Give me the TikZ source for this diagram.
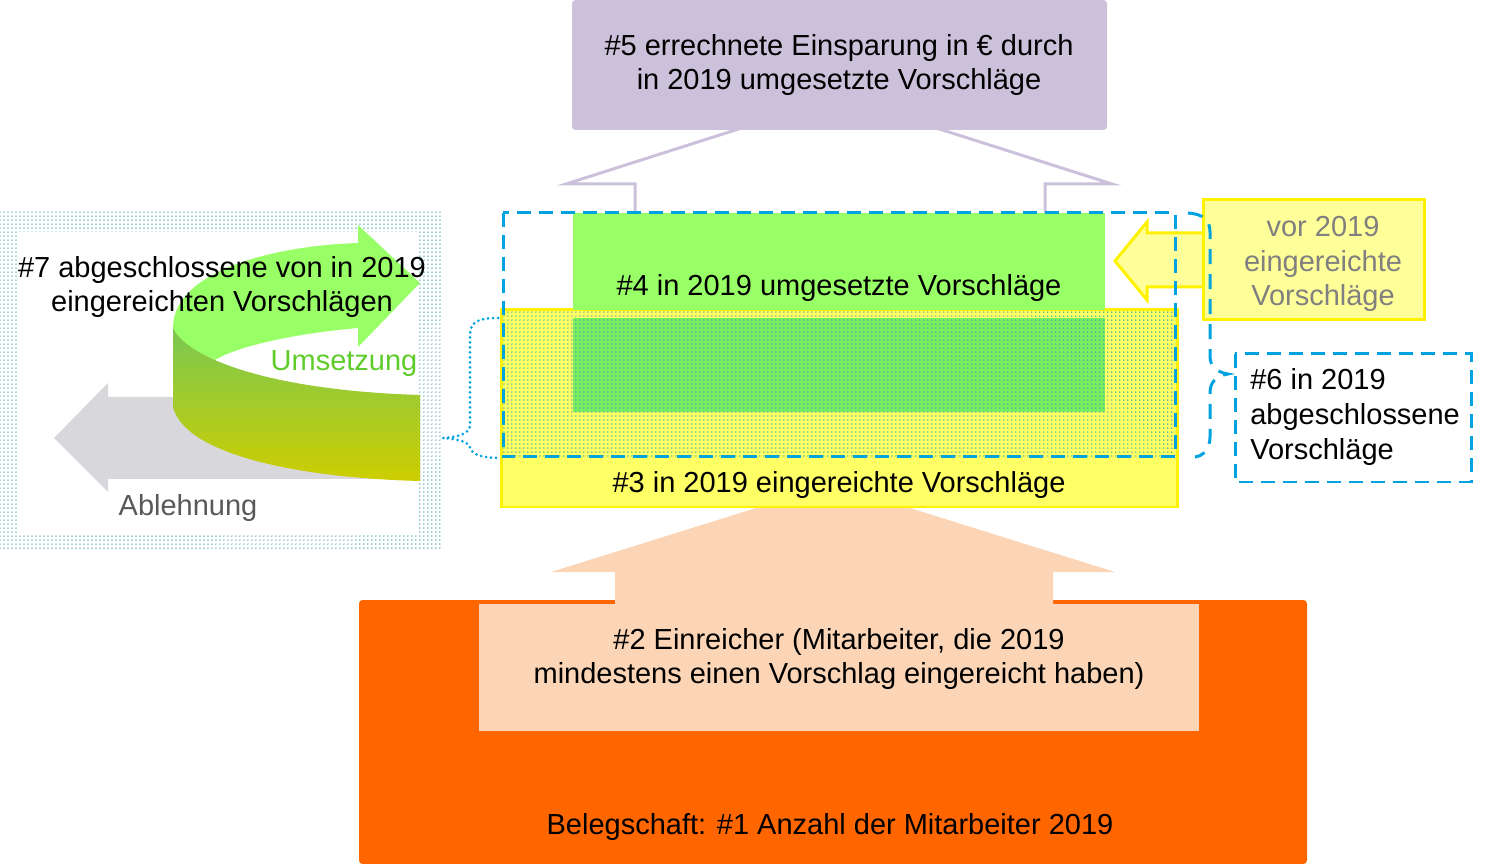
\documentclass[tikz,border=0pt]{standalone}
\usepackage{fontspec}
\setmainfont{Liberation Sans}
\usepackage{tikz}
\usetikzlibrary{patterns.meta}
\definecolor{lilac}{RGB}{204,193,218}
\definecolor{peach}{RGB}{251,213,181}
\definecolor{belegorange}{RGB}{255,102,0}
\definecolor{umsgreen}{RGB}{153,255,102}
\definecolor{mixgreen}{RGB}{122,238,98}
\definecolor{frontgreen}{RGB}{122,200,82}
\definecolor{frontolive}{RGB}{206,206,0}
\definecolor{einyellow}{RGB}{255,255,102}
\definecolor{paleyellow}{RGB}{255,255,153}
\definecolor{dashblue}{RGB}{0,163,224}
\definecolor{dotteal}{RGB}{46,158,158}
\definecolor{textgreen}{RGB}{96,204,44}
\definecolor{ablgrey}{RGB}{216,216,220}

\begin{document}
\begin{tikzpicture}[x=0.02cm, y=-0.02cm,
		font=\fontsize{16.5}{19.8}\selectfont,
		txt/.style={inner sep=0pt, align=center},
		bluedash/.style={dashblue, line width=0.06cm, dash pattern=on 0.28cm off 0.16cm},
		dotfill/.style={pattern={Dots[distance=0.08cm, radius=0.42pt]}, pattern color=dotteal}]
		\useasboundingbox (0,0) rectangle (1487,864);

		% Belegschaft and Einreicher
		\fill [belegorange, rounded corners=2pt] (359,600) rectangle (1307,864);
		\fill [peach] (615,610) -- (615,572) -- (551,572) -- (833,484) -- (1115,572) -- (1053,572) -- (1053,610) -- cycle;
		\fill [peach] (479,604) rectangle (1199,731);
		\node [txt] (einreicher) at (839,659) {\#2 Einreicher (Mitarbeiter, die 2019\\mindestens einen Vorschlag eingereicht haben)};
		\node [txt] (belegschaft) at (830,827) {Belegschaft: \#1 Anzahl der Mitarbeiter 2019};

		% Einsparung
		\filldraw [fill=white, draw=lilac, line width=0.06cm] (635,214) -- (635,184) -- (566,184) -- (839,97) -- (1112,184) -- (1045,184) -- (1045,214);
		\fill [lilac, rounded corners=2pt] (572,0) rectangle (1107,130);
		\node [txt] (einsparung) at (839,65) {\#5 errechnete Einsparung in € durch\\in 2019 umgesetzte Vorschläge};

		% eingereichte and umgesetzte
		\filldraw [fill=einyellow, draw=yellow, line width=0.06cm] (501,310) rectangle (1177,507);
		\fill [umsgreen] (573,213) rectangle (1105,310);
		\fill [mixgreen] (573,318) rectangle (1105,412);
		\fill [dotfill] (503,312) rectangle (1175,457);
		\node [txt] (umgesetzt) at (839,288) {\#4 in 2019 umgesetzte Vorschläge};
		\node [txt] (eingereicht) at (839,485) {\#3 in 2019 eingereichte Vorschläge};

		% vor 2019
		\filldraw [fill=paleyellow, draw=yellow, line width=0.06cm] (1210,233) -- (1147,233) -- (1147,222) -- (1115,261) -- (1147,300) -- (1147,287) -- (1210,287);
		\filldraw [fill=paleyellow, draw=yellow, line width=0.06cm] (1203,200) rectangle (1424,320);
		\node [txt, text=black!50] (vor) at (1323,264) {vor 2019\\eingereichte\\Vorschläge};

		% abgeschlossene
		\draw [bluedash] (503,213) rectangle (1175,457);
		\draw [bluedash, dash pattern=on 0.3cm off 0.2cm] (1188,213) .. controls (1203,214) and (1210,220) .. (1210,232) -- (1210,356) .. controls (1210,366) and (1216,372) .. (1228,374) .. controls (1216,376) and (1210,382) .. (1210,393) -- (1210,437) .. controls (1210,449) and (1203,456) .. (1195,457);
		\draw [bluedash] (1235,354) rectangle (1471,482);
		\node [inner sep=0pt, anchor=west, align=left] (abgeschlossen) at (1250,417) {\#6 in 2019\\abgeschlossene\\Vorschläge};

		% Umsetzung / Ablehnung
		\fill [dotfill] (0,210) rectangle (443,549);
		\fill [white] (17,232) rectangle (417,534);
		\fill [ablgrey] (420,397) -- (108,397) -- (108,383) -- (54,438) -- (108,492) -- (108,479) -- (420,479) -- cycle;
		\fill [umsgreen] (173,328) .. controls (173,272) and (270,246) .. (358,243) -- (358,225) -- (420,283) -- (358,347) -- (358,328) .. controls (300,333) and (240,345) .. (215,360) .. controls (195,352) and (178,340) .. (173,328) -- cycle;
		\shade [top color=frontgreen, bottom color=frontolive] (173,328) .. controls (185,355) and (260,390) .. (420,395) -- (420,481) .. controls (300,478) and (185,455) .. (173,407) -- cycle;
		\node [txt] (geschlossen) at (222,287) {\#7 abgeschlossene von in 2019\\eingereichten Vorschlägen};
		\node [txt, text=textgreen] (umsetzung) at (344,364) {Umsetzung};
		\node [txt, text=black!65] (ablehnung) at (188,508) {Ablehnung};
		\draw [dashblue, line width=0.06cm, line cap=round, dash pattern=on 0pt off 0.1cm] (498,318) .. controls (478,318) and (470,322) .. (470,335) -- (470,425) .. controls (470,433) and (460,437) .. (443,438) .. controls (460,439) and (470,443) .. (470,448) .. controls (472,455) and (485,458) .. (498,458);
	\end{tikzpicture}
\end{document}
